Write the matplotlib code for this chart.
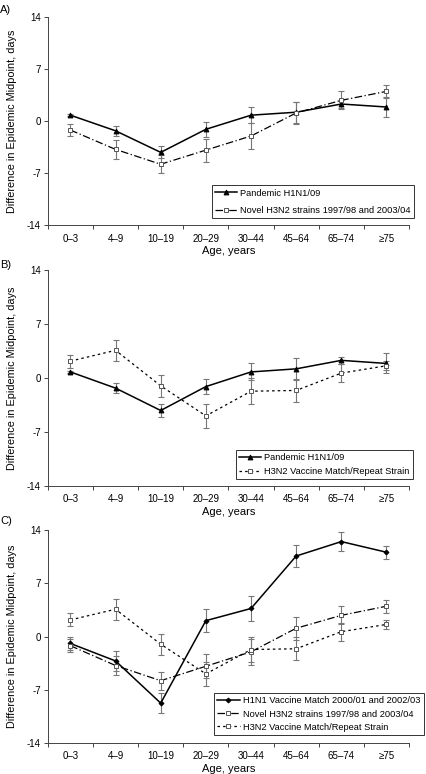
import matplotlib
matplotlib.use('Agg')
import matplotlib.pyplot as plt
import numpy as np

plt.rcParams['font.family'] = ['Liberation Sans', 'DejaVu Sans']
plt.rcParams['font.size'] = 7

ages = ['0\u20133', '4\u20139', '10\u201319', '20\u201329', '30\u201344', '45\u201364', '65\u201374', '\u226575']

# Pandemic H1N1/09
pdm = [0.8, -1.3, -4.2, -1.1, 0.8, 1.2, 2.3, 1.9]
pdm_err = [0.15, 0.65, 0.8, 1.0, 1.1, 1.4, 0.5, 1.3]
# Novel H3N2 strains 1997/98 and 2003/04
novel = [-1.2, -3.8, -5.8, -3.9, -2.0, 1.1, 2.8, 4.0]
novel_err = [0.85, 1.3, 1.2, 1.55, 1.75, 1.5, 1.2, 0.85]
# H3N2 Vaccine Match/Repeat Strain
h3vac = [2.2, 3.6, -1.0, -4.9, -1.7, -1.6, 0.65, 1.6]
h3vac_err = [0.85, 1.35, 1.4, 1.55, 1.7, 1.5, 1.2, 0.6]
# H1N1 Vaccine Match 2000/01 and 2002/03
h1vac = [-0.9, -3.2, -8.75, 2.1, 3.7, 10.6, 12.5, 11.1]
h1vac_err = [0.8, 1.3, 1.35, 1.5, 1.7, 1.5, 1.25, 0.85]

x = np.arange(len(ages))
ecol = '#777777'

def series(ax, y, err, kind, label):
    if kind == 'pdm':
        ls, mk, mfc, ms = '-', '^', 'black', 3.5
    elif kind == 'h1vac':
        ls, mk, mfc, ms = '-', 'D', 'black', 2.5
    elif kind == 'novel':
        ls, mk, mfc, ms = (0, (6, 2, 1, 2)), 's', 'white', 3.5
    else:
        ls, mk, mfc, ms = (0, (2, 2.5)), 's', 'white', 3.5
    ax.errorbar(x, y, yerr=err, fmt='none', ecolor=ecol, elinewidth=0.8,
                capsize=2.2, capthick=0.8, zorder=2)
    ax.plot(x, y, color='black', linestyle=ls, linewidth=1.1 if ls == '-' else 0.9,
            marker=mk, markersize=ms, markerfacecolor=mfc,
            markeredgecolor='black' if mfc == 'black' else '#555555',
            markeredgewidth=0.7, label=label, zorder=3)

def style(ax):
    ax.set_xlim(-0.5, 7.5)
    ax.set_ylim(-14, 14)
    ax.set_yticks([-14, -7, 0, 7, 14])
    ax.set_yticklabels(['-14', '-7', '0', '7', '14'])
    ax.set_xticks(x)
    ax.set_xticklabels(ages)
    ax.set_xticks(np.arange(-0.5, 8, 1), minor=True)
    ax.tick_params(axis='x', which='major', length=0, pad=6, labelsize=7)
    ax.tick_params(axis='x', which='minor', length=3, width=0.7, color='#444444')
    ax.tick_params(axis='y', length=3, width=0.7, color='#444444', pad=2, labelsize=7)
    for s in ['top', 'right']:
        ax.spines[s].set_visible(False)
    for s in ['left', 'bottom']:
        ax.spines[s].set_linewidth(0.7)
        ax.spines[s].set_color('#444444')
    ax.set_xlabel('Age, years', fontsize=8, labelpad=2)
    ax.set_ylabel('Difference in Epidemic Midpoint, days', fontsize=7.8, labelpad=7)

def legend(ax, anchor, spacing):
    lg = ax.legend(loc='lower right', bbox_to_anchor=anchor, borderaxespad=0,
                   frameon=True, fancybox=False, edgecolor='black',
                   handlelength=2.4, handletextpad=0.35, labelspacing=spacing,
                   borderpad=0.35, fontsize=6.7)
    lg.get_frame().set_linewidth(0.7)

fig = plt.figure(figsize=(4.27, 7.74), dpi=100)

axA = fig.add_axes([0.112, 0.709, 0.846, 0.269])
series(axA, pdm, pdm_err, 'pdm', 'Pandemic H1N1/09')
series(axA, novel, novel_err, 'novel', 'Novel H3N2 strains 1997/98 and 2003/04')
style(axA)
legend(axA, (1.014, 0.034), 0.9)

axB = fig.add_axes([0.112, 0.372, 0.846, 0.279])
series(axB, pdm, pdm_err, 'pdm', 'Pandemic H1N1/09')
series(axB, h3vac, h3vac_err, 'h3vac', 'H3N2 Vaccine Match/Repeat Strain')
style(axB)
legend(axB, (1.011, 0.032), 0.55)

axC = fig.add_axes([0.112, 0.040, 0.846, 0.275])
series(axC, h1vac, h1vac_err, 'h1vac', 'H1N1 Vaccine Match 2000/01 and 2002/03')
series(axC, novel, novel_err, 'novel', 'Novel H3N2 strains 1997/98 and 2003/04')
series(axC, h3vac, h3vac_err, 'h3vac', 'H3N2 Vaccine Match/Repeat Strain')
style(axC)
legend(axC, (1.04, 0.038), 0.45)

fig.text(0.0, 0.993, 'A)', fontsize=8, va='top')
fig.text(0.0, 0.664, 'B)', fontsize=8, va='top')
fig.text(0.0, 0.333, 'C)', fontsize=8, va='top')

fig.savefig('out.png', dpi=100)
